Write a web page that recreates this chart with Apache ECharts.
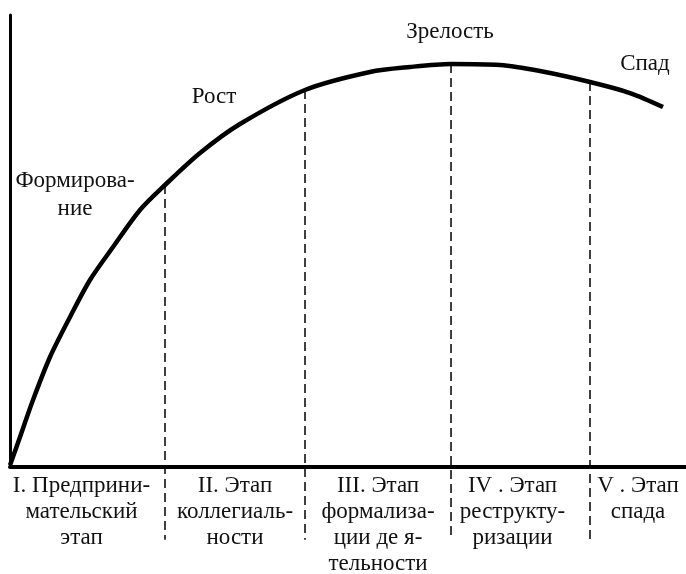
<!DOCTYPE html>
<html><head><meta charset="utf-8">
<script src="https://cdn.jsdelivr.net/npm/echarts@6/dist/echarts.min.js"></script>
<style>html,body{margin:0;padding:0;background:#fff}#c{width:686px;height:574px}</style>
</head><body><div id="c"></div>
<script>
// Life-cycle curve (x: time, y: level; arbitrary units 0..100)
var curveX = [0, 1.48, 3.40, 5.92, 8.88, 11.83, 15.24, 19.23, 22.93, 28.11, 34.02, 43.64, 53.25, 59.17, 65.24, 72.49, 78.40, 85.80, 91.72, 96.60];
var curveY = [0.4, 6.64, 14.82, 24.34, 33.19, 41.37, 48.67, 56.86, 62.39, 69.47, 75.88, 83.41, 87.39, 88.50, 89.16, 88.94, 87.61, 85.18, 82.74, 79.65];
// Stage boundaries and curve level at each boundary
var stageBoundaries = [22.93, 43.64, 65.24, 85.80];
var boundaryLevels = [62.39, 83.41, 89.16, 85.18];
var stageNames = [
  "I. Предприни-\nмательский\nэтап",
  "II. Этап\nколлегиаль-\nности",
  "III. Этап\nформализа-\nции де я-\nтельности",
  "IV . Этап\nреструкту-\nризации",
  "V . Этап\nспада"
];
var phaseNames = ["Формирова-\nние", "Рост", "Зрелость", "Спад"];

var chart = echarts.init(document.getElementById('c'), null, {renderer: 'canvas'});

var curveData = curveX.map(function (x, i) { return [x, curveY[i]]; });
var series = [{
  type: 'line', data: curveData, smooth: 0.3, symbol: 'none',
  lineStyle: {color: '#000', width: 4.5}, z: 5, animation: false
}];
var dashBottom = -16.1;
stageBoundaries.forEach(function (b, i) {
  series.push({
    type: 'line', data: [[b, boundaryLevels[i]], [b, dashBottom]], symbol: 'none',
    clip: false, animation: false, z: 3,
    lineStyle: {color: '#000', width: 1.5, type: [9, 5]}
  });
});

chart.setOption({
  animation: false,
  backgroundColor: '#fff',
  grid: {left: 10, right: 0, top: 15, bottom: 107},
  xAxis: {type: 'value', min: 0, max: 100,
    axisLine: {show: true, lineStyle: {color: '#000', width: 4}},
    axisTick: {show: false}, axisLabel: {show: false}, splitLine: {show: false}},
  yAxis: {type: 'value', min: 0, max: 100,
    axisLine: {show: true, lineStyle: {color: '#000', width: 3}},
    axisTick: {show: false}, axisLabel: {show: false}, splitLine: {show: false}},
  series: series
});

function txt(s, x, y, lh) {
  return {type: 'text', x: x, y: y,
    style: {text: s, fontFamily: 'Liberation Serif', fontSize: 23,
      fill: '#111', align: 'center', verticalAlign: 'top', lineHeight: lh}};
}
// Stage labels centred between boundaries, below the axis
var edges = [0].concat(stageBoundaries).concat([100]);
var labelShift = [-6, 0, 0, -8, 0];
var graphics = [];
stageNames.forEach(function (name, i) {
  var mid = (edges[i] + edges[i + 1]) / 2;
  var p = chart.convertToPixel({gridIndex: 0}, [mid, 0]);
  graphics.push(txt(name, p[0] + labelShift[i], p[1] + 6, 26));
});
// Phase labels
var phasePx = [[75, 167], [214, 83], [450, 18], [645, 50]];
phaseNames.forEach(function (name, i) {
  graphics.push(txt(name, phasePx[i][0], phasePx[i][1], 28));
});
chart.setOption({graphic: graphics});
</script></body></html>
